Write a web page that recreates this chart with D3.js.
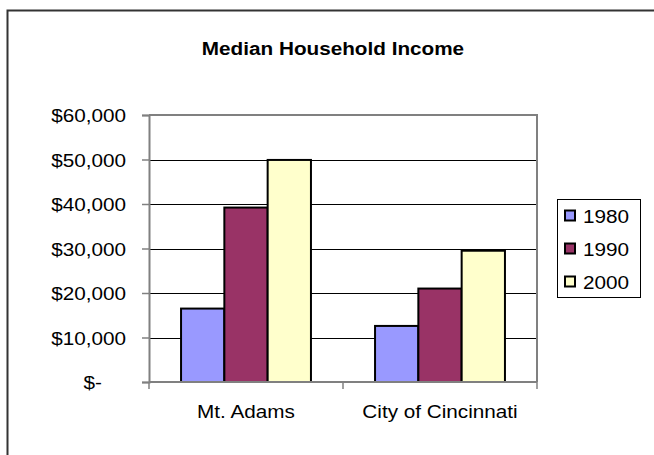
<!DOCTYPE html>
<html>
<head>
<meta charset="utf-8">
<script src="https://cdn.jsdelivr.net/npm/d3@7"></script>
<style>
  html, body { margin: 0; padding: 0; background: #fff; }
  svg { display: block; font-family: "Liberation Sans", Arial, sans-serif; }
</style>
</head>
<body>
<svg id="chart" width="654" height="455"></svg>
<script>
// ---- data ----
const categories = ["Mt. Adams", "City of Cincinnati"];
const years = ["1980", "1990", "2000"];
const values1980 = [16500, 12600];
const values1990 = [39200, 21000];
const values2000 = [49900, 29500];
const yTicks = [0, 10000, 20000, 30000, 40000, 50000, 60000];
const colors = ["#9999FF", "#993366", "#FFFFCC"];
const title = "Median Household Income";

const seriesValues = [values1980, values1990, values2000];

// ---- layout ----
const plot = { left: 149, right: 537, top: 115, bottom: 382 };
const FS = 18.5, SX = 1.12;

const svg = d3.select("#chart");
svg.append("rect").attr("width", 654).attr("height", 455).attr("fill", "#fff");

// outer chart border (only top/left visible)
svg.append("path")
  .attr("d", "M7.5,455 L7.5,10.5 L654,10.5")
  .attr("fill", "none").attr("stroke", "#333").attr("stroke-width", 2);

function stretch(sel) {
  sel.each(function () {
    const t = d3.select(this);
    const x = +t.attr("x") || 0;
    t.attr("transform", function () {
      const prev = t.attr("data-base-transform") || "";
      return prev + ` matrix(${SX},0,0,1,${(1 - SX) * x},0)`;
    });
  });
}

const x0 = d3.scaleBand().domain(categories).range([plot.left, plot.right]).paddingInner(0).paddingOuter(0);
const x1 = d3.scaleBand().domain(years).range([0, x0.bandwidth()]).paddingInner(0).paddingOuter(0.74);
const y = d3.scaleLinear().domain([0, 60000]).range([plot.bottom, plot.top]);

// gridlines
svg.append("g").selectAll("line")
  .data(yTicks.filter(d => d > 0 && d < 60000))
  .join("line")
  .attr("x1", plot.left).attr("x2", plot.right)
  .attr("y1", d => Math.round(y(d)) + 0.5).attr("y2", d => Math.round(y(d)) + 0.5)
  .attr("stroke", "#000").attr("stroke-width", 1);

// plot area border top/right
svg.append("path")
  .attr("d", `M${plot.left},${y(60000)} L${plot.right},${y(60000)} L${plot.right},${plot.bottom}`)
  .attr("fill", "none").attr("stroke", "#808080").attr("stroke-width", 2);

// bars
const groups = svg.append("g").selectAll("g")
  .data(categories)
  .join("g")
  .attr("transform", d => `translate(${x0(d)},0)`);

groups.selectAll("rect")
  .data((c, ci) => years.map((yr, si) => ({ yr, si, v: seriesValues[si][ci] })))
  .join("rect")
  .attr("x", d => x1(d.yr))
  .attr("width", x1.bandwidth())
  .attr("y", d => y(d.v))
  .attr("height", d => y(0) - y(d.v))
  .attr("fill", d => colors[d.si])
  .attr("stroke", "#000").attr("stroke-width", 2);

// y axis
const yAxis = d3.axisLeft(y)
  .tickValues(yTicks)
  .tickSize(7)
  .tickPadding(16)
  .tickFormat(d => d === 0 ? "$-" : "$" + d3.format(",")(d));

const yg = svg.append("g").attr("transform", `translate(${plot.left},0)`).call(yAxis);
yg.select(".domain").attr("stroke", "#808080").attr("stroke-width", 2);
yg.selectAll(".tick line").attr("stroke", "#808080").attr("stroke-width", 1.5);
yg.selectAll(".tick text")
  .attr("font-size", FS).attr("fill", "#000")
  .attr("font-family", '"Liberation Sans", Arial, sans-serif')
  .attr("dy", null).attr("y", 6.5)
  .attr("x", d => d === 0 ? -47 : -23)
  .call(stretch);

// x axis
const xBoundaries = categories.map(c => x0(c)).concat([plot.right]);
svg.append("line")
  .attr("x1", plot.left).attr("x2", plot.right)
  .attr("y1", plot.bottom).attr("y2", plot.bottom)
  .attr("stroke", "#808080").attr("stroke-width", 2);
svg.append("g").selectAll("line")
  .data(xBoundaries)
  .join("line")
  .attr("x1", d => d).attr("x2", d => d)
  .attr("y1", plot.bottom).attr("y2", plot.bottom + 7)
  .attr("stroke", "#808080").attr("stroke-width", 1.5);
svg.append("g").selectAll("text")
  .data(categories)
  .join("text")
  .attr("x", d => x0(d) + x0.bandwidth() / 2)
  .attr("y", 418)
  .attr("text-anchor", "middle")
  .attr("font-size", FS)
  .text(d => d)
  .call(stretch);

// title
svg.append("text")
  .attr("x", 333).attr("y", 55)
  .attr("text-anchor", "middle")
  .attr("font-size", FS).attr("font-weight", "bold")
  .text(title)
  .call(stretch);

// legend
const lg = svg.append("g");
lg.append("rect")
  .attr("x", 557.5).attr("y", 199.5).attr("width", 83).attr("height", 98)
  .attr("fill", "#fff").attr("stroke", "#000").attr("stroke-width", 1);
const ly = d3.scalePoint().domain(years).range([216, 282]);
lg.selectAll("rect.sw")
  .data(years)
  .join("rect").attr("class", "sw")
  .attr("x", 565).attr("y", d => ly(d) - 5.5)
  .attr("width", 10).attr("height", 10)
  .attr("fill", (d, i) => colors[i])
  .attr("stroke", "#000").attr("stroke-width", 2);
lg.selectAll("text")
  .data(years)
  .join("text")
  .attr("x", 583).attr("y", d => ly(d) + 7)
  .attr("font-size", FS)
  .text(d => d)
  .call(stretch);
</script>
</body>
</html>
